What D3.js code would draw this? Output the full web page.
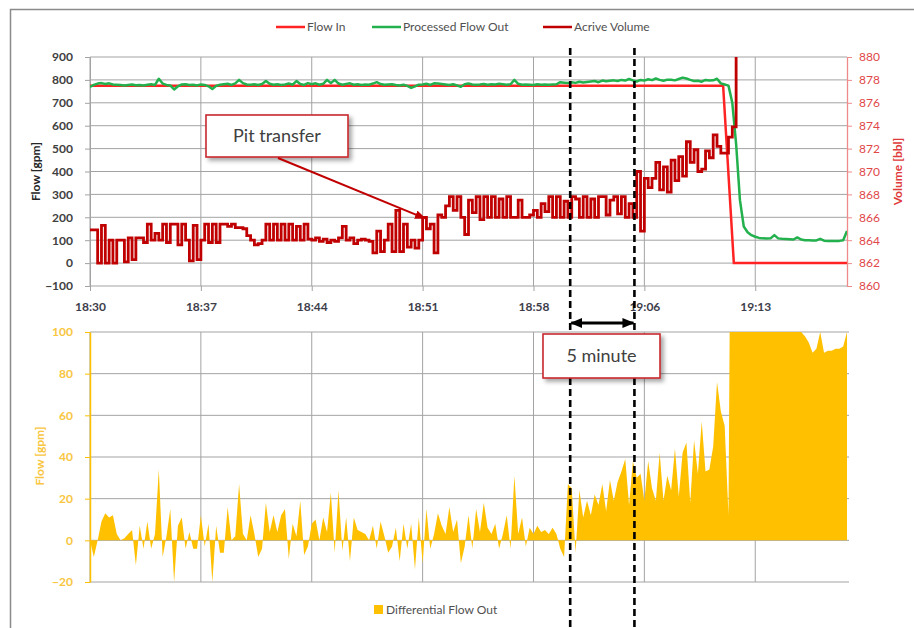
<!DOCTYPE html>
<html>
<head>
<meta charset="utf-8">
<script src="https://cdn.jsdelivr.net/npm/d3@7"></script>
<style>
  body { margin: 0; background: #fff; }
  svg text { font-family: Lato, "Open Sans", sans-serif; }
</style>
</head>
<body>
<div class="chart"></div>
<script>
// time axis: minutes after 18:30, one sample every 15 s
const sampleMin = 0.25
const endMin = 49.5
const tickStep = 7.25
const tickLabels = ['18:30', '18:37', '18:44', '18:51', '18:58', '19:06', '19:13']

const flowTicks = [-100, 0, 100, 200, 300, 400, 500, 600, 700, 800, 900]
const volTicks = [860, 862, 864, 866, 868, 870, 872, 874, 876, 878, 880]
const diffTicks = [-20, 0, 20, 40, 60, 80, 100]

// Flow In [gpm] (break points)
const flowInMin = [0, 41.4, 42.1, 49.5]
const flowInGpm = [775, 775, 0, 0]

// Processed Flow Out [gpm]
const flowOut = [
  770, 778, 784, 786, 782, 785, 780, 779, 778, 776,
  778, 780, 777, 778, 776, 779, 781, 778, 805, 784,
  778, 776, 758, 772, 780, 781, 778, 779, 776, 780,
  778, 772, 760, 774, 779, 781, 783, 778, 785, 800,
  786, 780, 779, 781, 778, 782, 795, 783, 779, 781,
  778, 780, 784, 779, 795, 782, 778, 786, 781, 785,
  779, 783, 800, 786, 800, 784, 779, 782, 785, 779,
  781, 778, 780, 779, 784, 790, 782, 779, 780, 781,
  778, 776, 779, 774, 765, 772, 779, 780, 783, 778,
  785, 784, 782, 780, 778, 781, 776, 770, 781, 784,
  780, 779, 780, 782, 779, 781, 780, 783, 781, 779,
  781, 800, 783, 779, 780, 779, 778, 781, 779, 780,
  779, 780, 781, 790, 788, 786, 790, 787, 792, 789,
  791, 793, 795, 790, 797, 794, 796, 798, 795, 800,
  797, 804, 798, 793, 800, 797, 803, 799, 806, 800,
  796, 801, 801, 798, 804, 810, 806, 800, 795, 796,
  792, 800, 797, 798, 805, 785, 780, 775, 700, 520,
  275, 160, 135, 122, 115, 110, 108, 107, 108, 122,
  108, 106, 105, 104, 103, 112, 103, 100, 100, 99,
  99, 106, 98, 97, 97, 97, 97, 100, 140
]

// Acrive Volume [bbl]
const activeVolume = [
  864.9, 864.9, 862.0, 865.3, 862.0, 864.0, 862.0, 864.0, 864.0, 862.1,
  864.2, 862.3, 864.2, 864.2, 863.8, 865.4, 864.0, 864.6, 864.0, 865.4,
  863.8, 865.4, 865.4, 863.6, 865.4, 864.0, 862.2, 865.3, 862.3, 864.0,
  865.4, 863.8, 865.4, 863.8, 865.4, 865.4, 865.2, 865.4, 865.1, 865.1,
  865.0, 864.4, 864.0, 863.6, 863.7, 864.0, 865.4, 864.0, 865.4, 864.0,
  865.4, 864.0, 865.4, 864.0, 865.2, 864.0, 865.4, 864.1, 864.0, 864.2,
  863.9, 864.1, 863.8, 864.0, 863.9, 864.2, 865.2, 864.0, 864.2, 863.7,
  864.0, 864.1, 864.0, 863.9, 862.9, 864.8, 863.0, 864.0, 865.4, 863.0,
  866.6, 863.0, 865.4, 863.4, 864.0, 863.3, 864.0, 866.0, 865.0, 865.4,
  862.9, 866.2, 866.0, 867.0, 867.8, 866.6, 867.8, 866.0, 864.5, 867.5,
  866.4, 867.8, 865.8, 867.8, 866.0, 867.8, 866.0, 867.6, 866.0, 867.8,
  866.0, 866.0, 867.5, 866.0, 866.0, 866.2, 866.6, 866.0, 867.2, 866.5,
  867.8, 866.0, 867.8, 866.0, 867.4, 866.0, 867.8, 867.6, 866.0, 867.8,
  866.0, 867.6, 866.0, 867.8, 867.8, 866.2, 867.5, 867.8, 866.3, 867.8,
  866.0, 867.2, 866.0, 870.0, 864.8, 869.4, 868.6, 869.4, 870.8, 868.4,
  870.4, 868.2, 871.0, 869.2, 871.3, 869.6, 872.6, 870.8, 871.9, 870.0,
  870.2, 871.8, 871.2, 873.2, 872.2, 871.6, 871.6, 873.0, 873.9, 882
]

// Differential Flow Out [gpm]
const diffFlow = [
  0, -8, 0, 9, 13, 11, 12, 3, 0, 1,
  3, 5, -12, 7, -4, 9, -4, 3, 34, -8,
  2, 15, -20, 7, 11, -4, 4, -4, -4, 12,
  -3, 8, -20, 7, -6, -6, 16, 0, 2, 27,
  3, 0, 12, 3, -8, -4, 18, 4, 12, 4,
  12, 15, -9, 8, 2, 19, -7, -3, 8, 10,
  0, 11, 4, 23, -6, 24, -5, 11, -10, 11,
  5, 4, 3, 0, 7, -4, 9, 2, -6, -3,
  6, -10, 8, -4, 8, -14, 11, -11, 15, -4,
  3, 13, 7, 3, 16, 4, 10, -11, -3, 12,
  -4, 15, 4, 18, 6, 3, 8, -4, 3, 12,
  -4, 31, 3, 11, -3, 6, 3, 7, 4, 5,
  3, 6, 3, -4, -8, 27, 25, -6, 24, 11,
  19, 12, 22, 17, 27, 14, 29, 19, 28, 33,
  39, 17, 38, 30, 32, 19, 38, 25, 19, 42,
  19, 31, 24, 44, 21, 42, 47, 18, 48, 32,
  57, 33, 34, 45, 76, 62, 55, 12, 300, 600,
  520, 400, 320, 260, 220, 190, 170, 155, 145, 138,
  130, 125, 120, 115, 110, 103, 100, 98, 95, 90,
  92, 100, 90, 91, 91, 92, 92, 93, 100
]

// annotations
const fiveMinMarks = [31.4, 35.6]
const pitTip = { t: 21.9, vol: 865.9 }

const legendTop = [
  { name: 'Flow In', color: '#ff2323', x: 276 },
  { name: 'Processed Flow Out', color: '#22b14c', x: 372 },
  { name: 'Acrive Volume', color: '#c00000', x: 543 }
]

const W = 914, H = 628
const svg = d3.select('.chart')
              .append('svg')
              .attr('width', W)
              .attr('height', H)

const defs = svg.append('defs')
const shadow = defs.append('filter').attr('id', 'shadow')
                   .attr('x', '-20%').attr('y', '-20%').attr('width', '150%').attr('height', '160%')
shadow.append('feDropShadow')
      .attr('dx', 3).attr('dy', 3).attr('stdDeviation', 2)
      .attr('flood-color', '#000').attr('flood-opacity', 0.35)

defs.append('marker').attr('id', 'arrRed')
    .attr('viewBox', '0 0 10 8').attr('refX', 9).attr('refY', 4)
    .attr('markerWidth', 11).attr('markerHeight', 9).attr('markerUnits', 'userSpaceOnUse')
    .attr('orient', 'auto')
    .append('path').attr('d', 'M0,0 L10,4 L0,8 z').attr('fill', '#c00000')

defs.append('marker').attr('id', 'arrBlack')
    .attr('viewBox', '0 0 12 10').attr('refX', 11).attr('refY', 5)
    .attr('markerWidth', 12).attr('markerHeight', 10).attr('markerUnits', 'userSpaceOnUse')
    .attr('orient', 'auto-start-reverse')
    .append('path').attr('d', 'M0,0 L12,5 L0,10 z').attr('fill', '#000')

// outer frame
svg.append('path')
   .attr('d', `M10.5,${H} V9.5 H${W}`)
   .attr('fill', 'none').attr('stroke', '#8a8a8a').attr('stroke-width', 1.5)

// scales
const x = d3.scaleLinear().domain([0, endMin]).range([90, 847])
const yFlow = d3.scaleLinear().domain([-100, 900]).range([286, 57])
const yVol = d3.scaleLinear().domain([860, 880]).range([286, 57])
const yDiff = d3.scaleLinear().domain([-20, 100]).range([582, 332])
const tickPos = tickLabels.map((d, i) => i * tickStep)

defs.append('clipPath').attr('id', 'clipTop')
    .append('rect').attr('x', 90).attr('y', 57).attr('width', 757).attr('height', 229)
defs.append('clipPath').attr('id', 'clipBot')
    .append('rect').attr('x', 90).attr('y', 332).attr('width', 757).attr('height', 250)

const gridColor = '#a3a3a3'

// ---- top chart ----
const topChart = svg.append('g')

topChart.append('g').selectAll('line')
   .data(flowTicks)
   .join('line')
   .attr('x1', 90).attr('x2', 847)
   .attr('y1', d => yFlow(d)).attr('y2', d => yFlow(d))
   .attr('stroke', gridColor)

topChart.append('g').selectAll('line')
   .data(tickPos)
   .join('line')
   .attr('x1', d => x(d)).attr('x2', d => x(d))
   .attr('y1', 57).attr('y2', 286)
   .attr('stroke', gridColor)

const xAxis = d3.axisBottom(x)
                .tickValues(tickPos)
                .tickFormat((d, i) => tickLabels[i])
                .tickSizeInner(5).tickSizeOuter(0)
                .tickPadding(11)
const xAxisGroup = topChart.append('g')
                      .attr('transform', 'translate(0,286)')
                      .call(xAxis)
xAxisGroup.select('.domain').remove()
xAxisGroup.selectAll('line').attr('stroke', gridColor)
xAxisGroup.selectAll('text')
          .style('font-size', '12px').style('font-weight', 'bold').attr('fill', '#3d3d4a')

const yAxis = d3.axisLeft(yFlow)
                .tickValues(flowTicks)
                .tickSizeInner(5).tickSizeOuter(0)
                .tickPadding(12)
const yAxisGroup = topChart.append('g')
                      .attr('transform', 'translate(90,0)')
                      .call(yAxis)
yAxisGroup.select('.domain').attr('stroke', gridColor)
yAxisGroup.selectAll('line').attr('stroke', gridColor)
yAxisGroup.selectAll('text')
          .style('font-size', '12px').style('font-weight', 'bold').attr('fill', '#404040')

const yVolAxis = d3.axisRight(yVol)
                   .tickValues(volTicks)
                   .tickSizeInner(5).tickSizeOuter(0)
                   .tickPadding(7)
const yVolGroup = topChart.append('g')
                     .attr('transform', 'translate(847,0)')
                     .call(yVolAxis)
yVolGroup.select('.domain').attr('stroke', '#f08a8a').attr('stroke-width', 1.3)
yVolGroup.selectAll('line').attr('stroke', '#f08a8a')
yVolGroup.selectAll('text')
         .style('font-size', '12px').attr('fill', '#e04848')

topChart.append('text')
   .attr('transform', `translate(40,${(57 + 286) / 2}) rotate(-90)`)
   .attr('text-anchor', 'middle')
   .style('font-size', '12px').style('font-weight', 'bold').attr('fill', '#262626')
   .text('Flow [gpm]')

topChart.append('text')
   .attr('transform', `translate(902,${(57 + 286) / 2}) rotate(-90)`)
   .attr('text-anchor', 'middle')
   .style('font-size', '12px').style('font-weight', 'bold').attr('fill', '#e03a3a')
   .text('Volume [bbl]')

const lines = topChart.append('g').attr('clip-path', 'url(#clipTop)')

const flowInLine = d3.line()
                     .x((d, i) => x(flowInMin[i]))
                     .y(d => yFlow(d))
lines.append('path')
     .attr('d', flowInLine(flowInGpm))
     .attr('fill', 'none').attr('stroke', '#ff2323').attr('stroke-width', 2.5)

const flowLine = d3.line()
                   .x((d, i) => x(i * sampleMin))
                   .y(d => yFlow(d))
lines.append('path')
     .attr('d', flowLine(flowOut))
     .attr('fill', 'none').attr('stroke', '#22b14c').attr('stroke-width', 2.5)
     .attr('stroke-linejoin', 'round')

const volLine = d3.line()
                  .x((d, i) => x(i * sampleMin))
                  .y(d => yVol(d))
                  .curve(d3.curveStepAfter)
lines.append('path')
     .attr('d', volLine(activeVolume))
     .attr('fill', 'none').attr('stroke', '#c00000').attr('stroke-width', 2.8)

// top legend
const lg = topChart.append('g').selectAll('g')
              .data(legendTop)
              .join('g')
              .attr('transform', d => `translate(${d.x},27)`)
lg.append('line')
  .attr('x1', 0).attr('x2', 29)
  .attr('stroke', d => d.color).attr('stroke-width', 2.5)
lg.append('text')
  .attr('x', 31).attr('dy', '0.35em')
  .style('font-size', '12px').attr('fill', '#505050')
  .text(d => d.name)

// ---- bottom chart ----
const botChart = svg.append('g')

botChart.append('g').selectAll('line')
   .data(diffTicks)
   .join('line')
   .attr('x1', 90).attr('x2', 849)
   .attr('y1', d => yDiff(d)).attr('y2', d => yDiff(d))
   .attr('stroke', gridColor)

botChart.append('g').selectAll('line')
   .data(tickPos)
   .join('line')
   .attr('x1', d => x(d)).attr('x2', d => x(d))
   .attr('y1', 332).attr('y2', 582)
   .attr('stroke', gridColor)

const diffArea = d3.area()
                   .x((d, i) => x(i * sampleMin))
                   .y0(yDiff(0))
                   .y1(d => yDiff(d))
botChart.append('path')
   .attr('clip-path', 'url(#clipBot)')
   .attr('d', diffArea(diffFlow))
   .attr('fill', '#ffc000')

const yDiffAxis = d3.axisLeft(yDiff)
                    .tickValues(diffTicks)
                    .tickSizeInner(5).tickSizeOuter(0)
                    .tickPadding(12)
const yDiffGroup = botChart.append('g')
                      .attr('transform', 'translate(90,0)')
                      .call(yDiffAxis)
yDiffGroup.select('.domain').attr('stroke', '#ffc000').attr('stroke-width', 1.5)
yDiffGroup.selectAll('line').attr('stroke', '#ffc000')
yDiffGroup.selectAll('text')
          .style('font-size', '12px').style('font-weight', 'bold').attr('fill', '#f8c640')

botChart.append('text')
   .attr('transform', `translate(44,456) rotate(-90)`)
   .attr('text-anchor', 'middle')
   .style('font-size', '12px').style('font-weight', 'bold').attr('fill', '#f8c640')
   .text('Flow [gpm]')

botChart.append('rect')
   .attr('x', 374).attr('y', 605).attr('width', 9).attr('height', 9)
   .attr('fill', '#ffc000')
botChart.append('text')
   .attr('x', 386).attr('y', 610).attr('dy', '0.35em')
   .style('font-size', '12px').attr('fill', '#505050')
   .text('Differential Flow Out')

// ---- annotations ----
const ann = svg.append('g')

ann.selectAll('line.mark')
   .data(fiveMinMarks)
   .join('line')
   .attr('class', 'mark')
   .attr('x1', d => x(d)).attr('x2', d => x(d))
   .attr('y1', 48).attr('y2', H)
   .attr('stroke', '#000').attr('stroke-width', 2.6)
   .attr('stroke-dasharray', '7,4')

ann.append('line')
   .attr('x1', x(fiveMinMarks[0]) + 1).attr('x2', x(fiveMinMarks[1]) - 1)
   .attr('y1', 323).attr('y2', 323)
   .attr('stroke', '#000').attr('stroke-width', 3)
   .attr('marker-start', 'url(#arrBlack)').attr('marker-end', 'url(#arrBlack)')

function callout(x0, y0, w, h, label) {
  ann.append('rect')
     .attr('x', x0).attr('y', y0).attr('width', w).attr('height', h)
     .attr('fill', '#fff').attr('stroke', '#c8282e').attr('stroke-width', 1.6)
     .attr('filter', 'url(#shadow)')
  ann.append('text')
     .attr('x', x0 + w / 2).attr('y', y0 + h / 2).attr('dy', '0.35em')
     .attr('text-anchor', 'middle')
     .style('font-size', '18px').attr('fill', '#404040')
     .text(label)
}

callout(206, 115, 142, 42, 'Pit transfer')
callout(543, 334, 117, 44, '5 minute')

ann.append('line')
   .attr('x1', 278).attr('y1', 158)
   .attr('x2', x(pitTip.t)).attr('y2', yVol(pitTip.vol))
   .attr('stroke', '#c00000').attr('stroke-width', 2)
   .attr('marker-end', 'url(#arrRed)')
</script>
</body>
</html>
